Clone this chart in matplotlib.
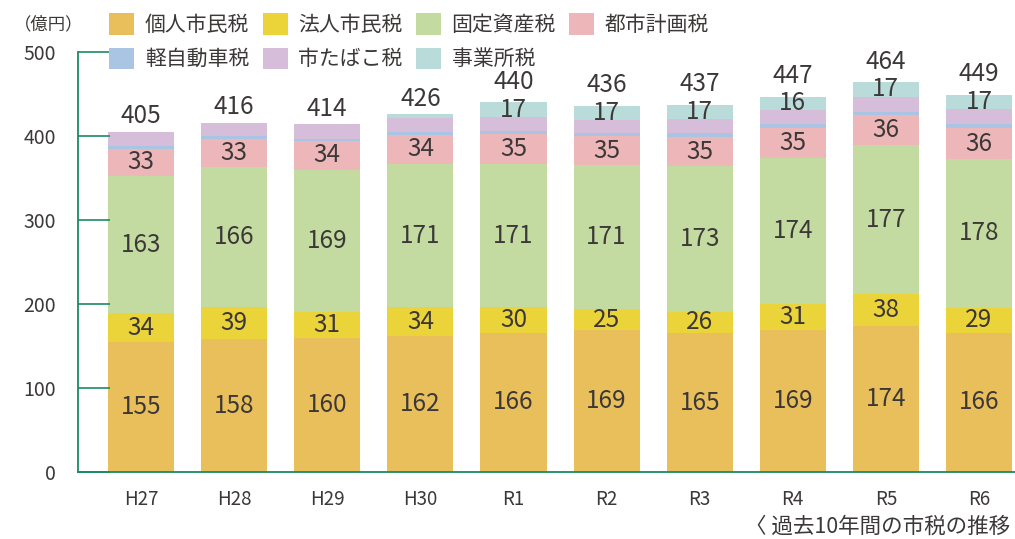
import matplotlib
matplotlib.use("Agg")
import matplotlib.pyplot as plt
import numpy as np

plt.rcParams['font.family'] = ['Noto Sans CJK JP', 'DejaVu Sans']

years = ["H27", "H28", "H29", "H30", "R1", "R2", "R3", "R4", "R5", "R6"]
individual = [155, 158, 160, 162, 166, 169, 165, 169, 174, 166]
corporate = [34, 39, 31, 34, 30, 25, 26, 31, 38, 29]
fixed_asset = [163, 166, 169, 171, 171, 171, 173, 174, 177, 178]
city_planning = [33, 33, 34, 34, 35, 35, 35, 35, 36, 36]
light_vehicle = [3, 4, 3, 4, 4, 4, 4, 5, 4, 5]
tobacco = [17, 16, 17, 17, 17, 15, 17, 17, 18, 18]
office = [0, 0, 0, 4, 17, 17, 17, 16, 17, 17]
totals = [405, 416, 414, 426, 440, 436, 437, 447, 464, 449]

series_names = ["個人市民税", "法人市民税", "固定資産税", "都市計画税", "軽自動車税", "市たばこ税", "事業所税"]
series = [individual, corporate, fixed_asset, city_planning, light_vehicle, tobacco, office]
colors = ["#E8BF5A", "#EBD33A", "#C3DBA1", "#EDB7BA", "#AAC4E4", "#D6BEDB", "#B9DCDA"]
label_series = [True, True, True, True, False, False, True]
label_min = 10

text_color = "#3c3838"
spine_color = "#1a8a66"

fig = plt.figure(figsize=(10.15, 5.39), dpi=100)
ax = fig.add_axes([78 / 1015, 1 - 472 / 539, 1 - 78 / 1015, 420 / 539])

x = np.arange(len(years))
bottom = np.zeros(len(years))
handles = []
for idx, (name, vals, col, lab) in enumerate(zip(series_names, series, colors, label_series)):
    vals = np.array(vals, dtype=float)
    b = ax.bar(x, vals, 0.71, bottom=bottom, color=col, label=name, linewidth=0)
    handles.append(b)
    if lab:
        for xi, v, bt in zip(x, vals, bottom):
            if v >= label_min:
                ax.text(xi, bt + v / 2, f"{int(v)}", ha="center", va="center",
                        fontsize=17.5, color=text_color)
    bottom += vals

for xi, t, bt, off in zip(x, totals, bottom, office):
    gap = 16 if off >= label_min else 10
    ax.text(xi, bt + gap, f"{t}", ha="center", va="baseline", fontsize=17.5, color=text_color)

ax.set_ylim(0, 500)
ax.set_xlim(-0.677, 9.387)
ax.set_yticks([0, 100, 200, 300, 400, 500])
ax.set_yticklabels(["0", "100", "200", "300", "400", "500"])
ax.set_xticks(x)
ax.set_xticklabels(years)
ax.tick_params(axis="y", direction="in", length=23, width=1.2, color=spine_color,
               labelsize=14, labelcolor=text_color, pad=16)
ax.tick_params(axis="x", length=0, labelsize=13.5, labelcolor=text_color, pad=12)
ax.spines["top"].set_visible(False)
ax.spines["right"].set_visible(False)
ax.spines["left"].set_color(spine_color)
ax.spines["bottom"].set_color(spine_color)
ax.spines["left"].set_linewidth(1.3)
ax.spines["bottom"].set_linewidth(1.3)

# legend: ordering so rows read across
order = [0, 4, 1, 5, 2, 6, 3]
leg = fig.legend([handles[i] for i in order], [series_names[i] for i in order],
                 ncol=4, loc="upper left", bbox_to_anchor=(99 / 1015, 1.0 - 3 / 539),
                 frameon=False, fontsize=15, handlelength=1.2, handleheight=1.2,
                 handletextpad=0.5, columnspacing=0.65, labelspacing=0.55,
                 borderpad=0.0, labelcolor=text_color)

fig.text(14 / 1015, 1 - 24 / 539, "（億円）", fontsize=12.5, color=text_color, va="center", ha="left")
fig.text(1010 / 1015, 1 - 527 / 539, "〈 過去10年間の市税の推移", fontsize=15.5, color=text_color,
         va="center", ha="right")

fig.savefig("out.png", dpi=100)
